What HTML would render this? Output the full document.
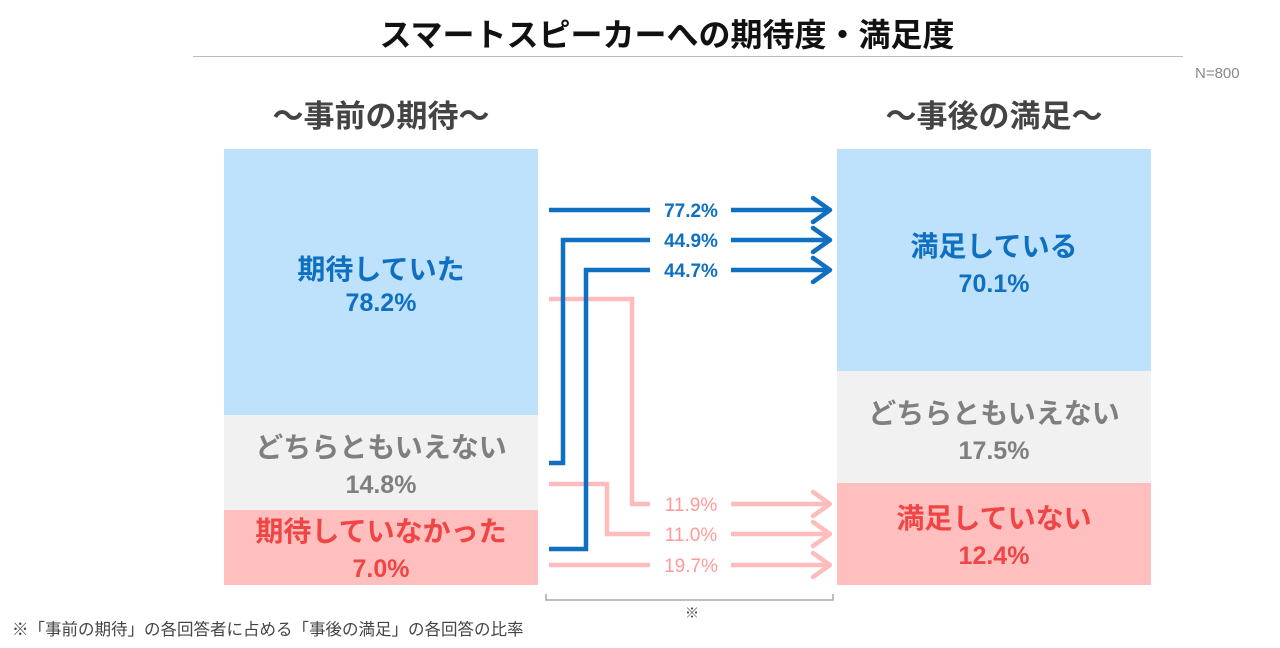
<!DOCTYPE html>
<html><head><meta charset="utf-8"><style>
body{margin:0;width:1280px;height:648px;background:#fff;position:relative;overflow:hidden;font-family:"Liberation Sans","Noto Sans CJK JP",sans-serif}
.a{position:absolute}
.c{text-align:center;font-weight:bold;white-space:nowrap}
.n{font-size:25px}
</style></head><body>
<div class="a c" style="left:0;width:1334px;top:15px;font-size:32px;line-height:40px;color:#111">スマートスピーカーへの期待度・満足度</div>
<div class="a" style="left:193px;top:56px;width:990px;height:1px;background:#bbb"></div>
<div class="a" style="left:1195px;top:65px;font-size:15px;color:#888">N=800</div>
<div class="a c" style="left:224px;width:314px;top:98px;font-size:31px;line-height:38px;color:#444">～事前の期待～</div>
<div class="a c" style="left:837px;width:314px;top:98px;font-size:31px;line-height:38px;color:#444">～事後の満足～</div>

<div class="a" style="left:224px;top:149px;width:314px;height:266px;background:#bfe2fc"></div>
<div class="a" style="left:224px;top:415px;width:314px;height:95px;background:#f1f1f1"></div>
<div class="a" style="left:224px;top:510px;width:314px;height:75px;background:#ffbfbf"></div>
<div class="a c" style="left:224px;width:314px;top:254px;font-size:28px;line-height:32px;color:#0f6fc0">期待していた<br><span class="n">78.2%</span></div>
<div class="a c" style="left:224px;width:314px;top:430px;font-size:28px;line-height:36px;color:#7f7f7f">どちらともいえない<br><span class="n">14.8%</span></div>
<div class="a c" style="left:224px;width:314px;top:514px;font-size:28px;line-height:36px;color:#f04545">期待していなかった<br><span class="n">7.0%</span></div>

<div class="a" style="left:837px;top:149px;width:314px;height:222px;background:#bfe2fc"></div>
<div class="a" style="left:837px;top:371px;width:314px;height:112px;background:#f1f1f1"></div>
<div class="a" style="left:837px;top:483px;width:314px;height:102px;background:#ffbfbf"></div>
<div class="a c" style="left:837px;width:314px;top:229px;font-size:28px;line-height:36px;color:#0f6fc0">満足している<br><span class="n">70.1%</span></div>
<div class="a c" style="left:837px;width:314px;top:396px;font-size:28px;line-height:36px;color:#7f7f7f">どちらともいえない<br><span class="n">17.5%</span></div>
<div class="a c" style="left:837px;width:314px;top:501px;font-size:28px;line-height:36px;color:#f04545">満足していない<br><span class="n">12.4%</span></div>

<svg class="a" style="left:0;top:0" width="1280" height="648">
<g fill="none" stroke="#ffbcbc" stroke-width="4.5">
<polyline points="549,299 632,299 632,504 650,504"/>
<polyline points="549,484 607,484 607,534 650,534"/>
<line x1="549" y1="565" x2="650" y2="565"/>
<line x1="731" y1="504" x2="830" y2="504"/><polyline points="813,492 830,504 813,516" stroke-linecap="round" stroke-linejoin="round"/>
<line x1="731" y1="534" x2="830" y2="534"/><polyline points="813,522 830,534 813,546" stroke-linecap="round" stroke-linejoin="round"/>
<line x1="731" y1="565" x2="830" y2="565"/><polyline points="813,553 830,565 813,577" stroke-linecap="round" stroke-linejoin="round"/>
</g>
<g fill="none" stroke="#0f6fc0" stroke-width="4.5">
<line x1="549" y1="210" x2="650" y2="210"/>
<polyline points="549,463 563,463 563,240 650,240"/>
<polyline points="549,549 586,549 586,270 650,270"/>
<line x1="731" y1="210" x2="830" y2="210"/><polyline points="813,198 830,210 813,222" stroke-linecap="round" stroke-linejoin="round"/>
<line x1="731" y1="240" x2="830" y2="240"/><polyline points="813,228 830,240 813,252" stroke-linecap="round" stroke-linejoin="round"/>
<line x1="731" y1="270" x2="830" y2="270"/><polyline points="813,258 830,270 813,282" stroke-linecap="round" stroke-linejoin="round"/>
</g>
<polyline points="546,594 546,600 833,600 833,594" fill="none" stroke="#aaa" stroke-width="1.5"/>
<g font-family="Liberation Sans, sans-serif" font-size="19" text-anchor="middle" font-weight="bold">
<text x="691" y="217" fill="#0f6fc0">77.2%</text>
<text x="691" y="247" fill="#0f6fc0">44.9%</text>
<text x="691" y="277" fill="#0f6fc0">44.7%</text>
<text x="691" y="511" fill="#ff9a9a" font-weight="normal">11.9%</text>
<text x="691" y="541" fill="#ff9a9a" font-weight="normal">11.0%</text>
<text x="691" y="572" fill="#ff9a9a" font-weight="normal">19.7%</text>
</g>
<text x="692" y="618" font-size="14" text-anchor="middle" fill="#444" font-family="Noto Sans CJK JP, sans-serif">※</text>
</svg>
<div class="a" style="left:12px;top:616px;font-size:16.5px;color:#444;white-space:nowrap">※「事前の期待」の各回答者に占める「事後の満足」の各回答の比率</div>
</body></html>
